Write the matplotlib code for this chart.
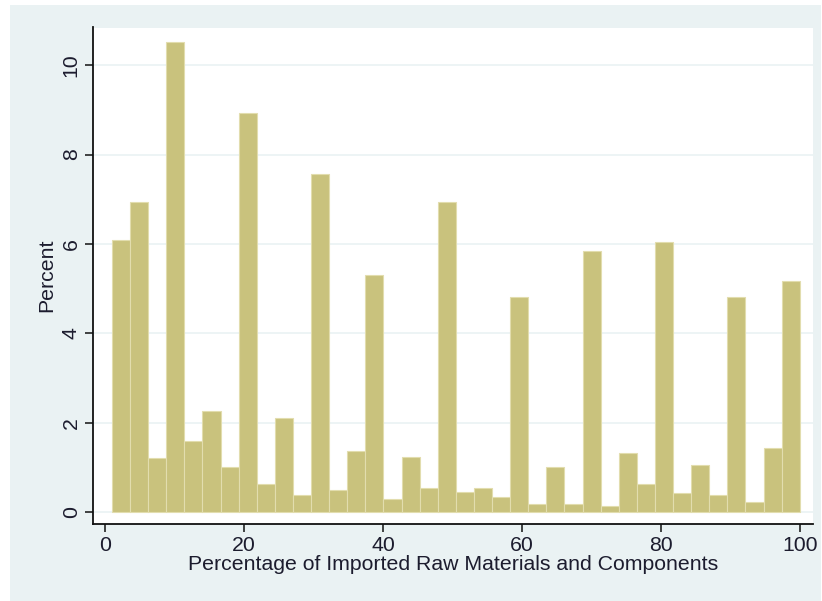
import matplotlib
matplotlib.use("Agg")
import matplotlib.pyplot as plt
from matplotlib.patches import Rectangle
import numpy as np

# histogram: 38 bins of equal width from 1 to 100
bin_start = 1.0
bin_end = 100.0
percent = [6.09, 6.94, 1.21, 10.52, 1.59, 2.26, 1.02, 8.92, 0.63, 2.11,
           0.39, 7.56, 0.51, 1.37, 5.30, 0.31, 1.24, 0.55, 6.94, 0.46,
           0.55, 0.35, 4.81, 0.19, 1.02, 0.19, 5.85, 0.15, 1.33, 0.63,
           6.04, 0.43, 1.06, 0.39, 4.81, 0.24, 1.44, 5.18]
x_ticks = [0, 20, 40, 60, 80, 100]
y_ticks = [0, 2, 4, 6, 8, 10]

BG = '#EAF2F3'
BAR = '#C9C27D'
TEXT = '#1c1c2e'

plt.rcParams['font.family'] = ['Liberation Sans', 'DejaVu Sans']
plt.rcParams['font.size'] = 15.3

fig = plt.figure(figsize=(8.22, 6.01), dpi=100, facecolor='white')
W, H = 822, 601
# graph region background
fig.patches.append(Rectangle((10 / W, 0), (821 - 10) / W, (601 - 5) / H,
                             transform=fig.transFigure, facecolor=BG,
                             edgecolor='none', zorder=-5))

ax = fig.add_axes([92.5 / W, 1 - 524 / H, (813 - 92.5) / W, (524 - 27.5) / H])
ax.set_facecolor('white')

n = len(percent)
width = (bin_end - bin_start) / n
lefts = bin_start + width * np.arange(n)
ax.bar(lefts, percent, width=width, align='edge', color=BAR,
       edgecolor='#E2DDAE', linewidth=0.8, zorder=2)

ax.set_xlim(-1.8, 101.9)
ax.set_ylim(-0.26, 10.84)
ax.set_xticks(x_ticks)
ax.set_yticks(y_ticks)
ax.set_yticklabels([str(v) for v in y_ticks], rotation=90, va='center')

ax.grid(axis='y', color=BG, linewidth=1.2, zorder=1)
ax.set_axisbelow(True)

for side in ['top', 'right']:
    ax.spines[side].set_visible(False)
for side in ['left', 'bottom']:
    ax.spines[side].set_color('#111111')
    ax.spines[side].set_linewidth(1.3)

ax.tick_params(axis='both', direction='out', length=5.5, width=1.1,
               color='#111111', labelcolor=TEXT, pad=3)

ax.set_xlabel("Percentage of Imported Raw Materials and Components",
              color=TEXT, labelpad=0)
ax.set_ylabel("Percent", color=TEXT, labelpad=4)

fig.savefig("out.png", dpi=100, facecolor='white')
